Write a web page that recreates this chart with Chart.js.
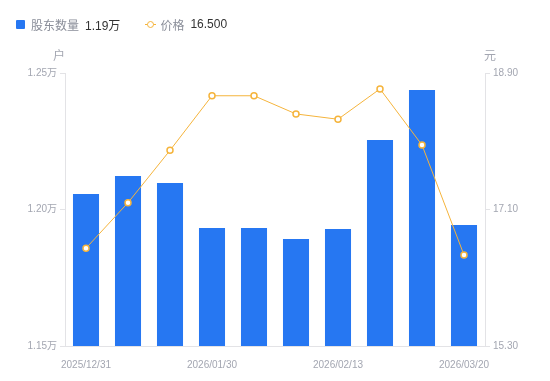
<!DOCTYPE html>
<html>
<head>
<meta charset="utf-8">
<script src="https://cdn.jsdelivr.net/npm/chart.js@4.4.1/dist/chart.umd.min.js"></script>
<style>
  body { margin: 0; background: #fff; font-family: "Liberation Sans", "Noto Sans CJK SC", sans-serif; }
  #wrap { position: relative; width: 550px; height: 381px; }
  #legend { position: absolute; left: 16px; top: 16px; font-size: 12px; display: flex; align-items: center; height: 16px; }
  .sq { display: inline-block; width: 9px; height: 9px; background: #2677f2; border-radius: 1px; margin-right: 6px; }
  .ln { display: inline-block; position: relative; width: 11px; height: 9px; margin-right: 4px; }
  .ln:before { content: ""; position: absolute; left: 0; right: 0; top: 4px; height: 1px; background: #f5b43c; }
  .ln:after { content: ""; position: absolute; left: 2px; top: 1px; width: 5px; height: 5px; border: 1.5px solid #f5b43c; border-radius: 50%; background: #fff; }
  .nm { color: #8a8e99; margin-right: 6px; }
  .vl { color: #333; margin-right: 25px; }
</style>
</head>
<body>
<div id="wrap">
  <canvas id="chart" width="550" height="381"></canvas>
  <div id="legend"></div>
</div>
<script>
// 数据
const labels = ['2025/12/31', '2026/01/09', '2026/01/20', '2026/01/30', '2026/02/06',
                '2026/02/10', '2026/02/13', '2026/02/27', '2026/03/10', '2026/03/20'];
const holders = [1.2057, 1.2123, 1.2097, 1.1932, 1.1932, 1.1892, 1.1929, 1.2255, 1.2438, 1.1943]; // 万户
const prices = [16.59, 17.19, 17.88, 18.60, 18.60, 18.36, 18.29, 18.69, 17.95, 16.50];
const leftTicks = [1.15, 1.20, 1.25];
const rightTicks = [15.30, 17.10, 18.90];

const tickColor = '#a3a6b1';
const lineGrey = '#e3e3e6';
const fontFam = '"Liberation Sans", "Noto Sans CJK SC", sans-serif';

// 图例（HTML）
document.getElementById('legend').innerHTML =
  '<span class="sq"></span><span class="nm">股东数量</span><span class="vl">' + holders[holders.length - 1].toFixed(2) + '万</span>' +
  '<span class="ln"></span><span class="nm">价格</span><span class="vl">' + prices[prices.length - 1].toFixed(3) + '</span>';

// 轴单位
const unitPlugin = {
  id: 'units',
  afterDraw(chart) {
    const c = chart.ctx;
    const a = chart.chartArea;
    c.save();
    c.font = '12px ' + fontFam;
    c.fillStyle = tickColor;
    c.textAlign = 'center';
    c.textBaseline = 'middle';
    c.fillText('户', a.left - 6, a.top - 16);
    c.fillText('元', a.right + 5, a.top - 16);
    c.restore();
  }
};

new Chart(document.getElementById('chart'), {
  data: {
    labels: labels,
    datasets: [
      {
        type: 'line',
        label: '价格',
        data: prices,
        yAxisID: 'y1',
        borderColor: '#f5b43c',
        borderWidth: 1,
        pointRadius: 3,
        pointBorderWidth: 1.5,
        pointBackgroundColor: '#fff',
        pointBorderColor: '#f5b43c',
        tension: 0,
        order: 0
      },
      {
        type: 'bar',
        label: '股东数量',
        data: holders,
        yAxisID: 'y',
        backgroundColor: '#2677f2',
        barPercentage: 0.62,
        categoryPercentage: 1,
        order: 1
      }
    ]
  },
  options: {
    responsive: false,
    animation: false,
    layout: { padding: { top: 73, left: 0, right: 0, bottom: 0 } },
    plugins: { legend: { display: false }, tooltip: { enabled: false } },
    scales: {
      x: {
        grid: { display: false },
        border: { display: true, color: lineGrey },
        ticks: {
          color: tickColor,
          font: { size: 10, family: fontFam },
          maxRotation: 0,
          autoSkip: false,
          padding: 5,
          callback: function(v, i) { return i % 3 === 0 ? labels[i] : ''; }
        },
        afterFit(s) { s.height = 35; }
      },
      y: {
        position: 'left',
        min: 1.15,
        max: 1.25,
        afterBuildTicks(s) { s.ticks = leftTicks.map(v => ({ value: v })); },
        grid: { drawOnChartArea: false, drawTicks: true, tickLength: 5, color: lineGrey },
        border: { color: lineGrey },
        ticks: {
          color: tickColor,
          font: { size: 10, family: fontFam },
          padding: 3,
          callback: v => v.toFixed(2) + '万'
        },
        afterFit(s) { s.width = 65; }
      },
      y1: {
        position: 'right',
        min: 15.30,
        max: 18.90,
        afterBuildTicks(s) { s.ticks = rightTicks.map(v => ({ value: v })); },
        grid: { drawOnChartArea: false, drawTicks: true, tickLength: 5, color: lineGrey },
        border: { color: lineGrey },
        ticks: {
          color: tickColor,
          font: { size: 10, family: fontFam },
          padding: 3,
          callback: v => v.toFixed(2)
        },
        afterFit(s) { s.width = 65; }
      }
    }
  },
  plugins: [unitPlugin]
});
</script>
</body>
</html>
